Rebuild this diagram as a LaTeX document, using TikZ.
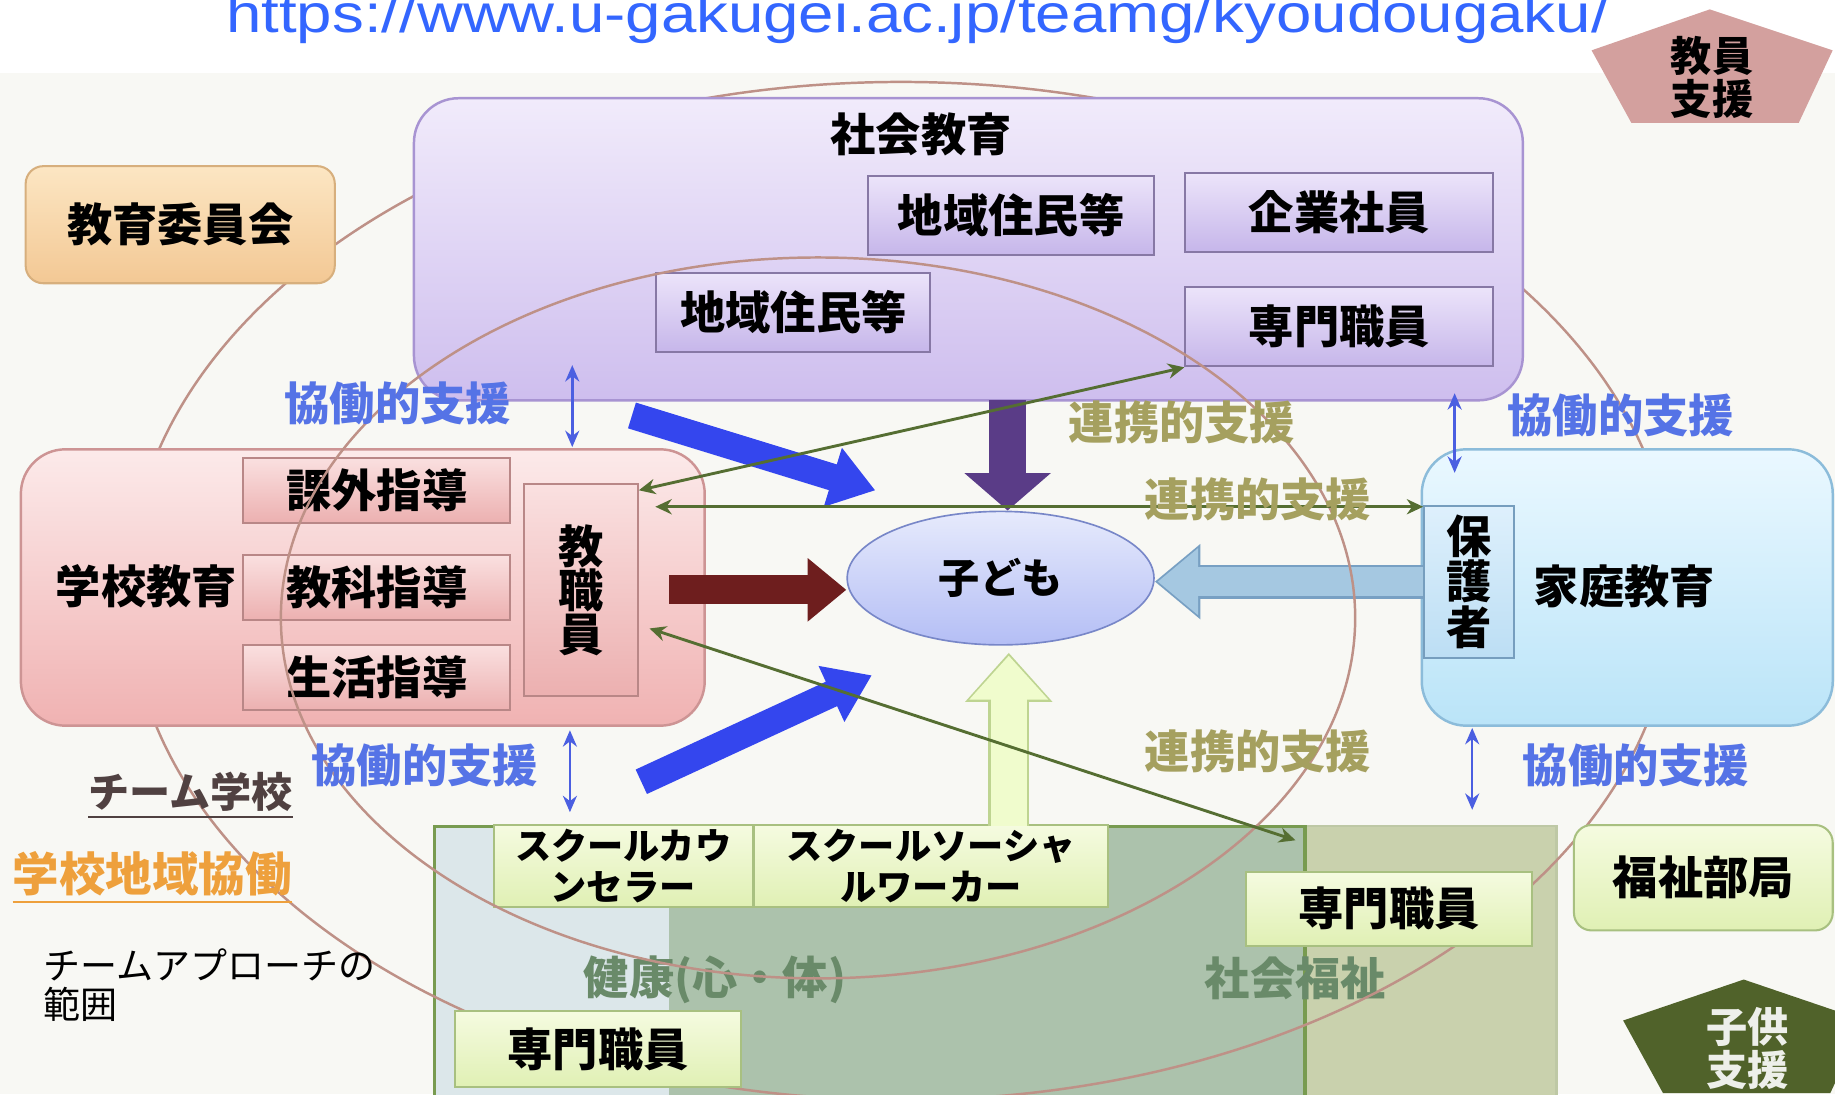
\documentclass[tikz,border=0pt]{standalone}
\usepackage{fontspec}
\setmainfont{Liberation Sans}
\newfontfamily\jp{Noto Sans CJK JP}
\usetikzlibrary{arrows.meta,shapes.geometric}

\definecolor{bgpaper}{RGB}{248,248,244}
\definecolor{urlblue}{RGB}{51,102,255}
\definecolor{rosy}{RGB}{211,160,158}
\definecolor{olivedark}{RGB}{80,98,42}
\definecolor{ringline}{RGB}{190,145,135}
\definecolor{lilacTop}{RGB}{241,235,251}
\definecolor{lilacBot}{RGB}{206,190,238}
\definecolor{lilacLine}{RGB}{168,148,210}
\definecolor{mauveTop}{RGB}{236,228,250}
\definecolor{mauveBot}{RGB}{198,182,234}
\definecolor{mauveLine}{RGB}{135,120,165}
\definecolor{apricotTop}{RGB}{252,230,195}
\definecolor{apricotBot}{RGB}{243,200,148}
\definecolor{apricotLine}{RGB}{215,175,125}
\definecolor{roseTop}{RGB}{252,234,234}
\definecolor{roseBot}{RGB}{240,178,178}
\definecolor{roseLine}{RGB}{205,148,148}
\definecolor{pinkTop}{RGB}{250,224,224}
\definecolor{pinkBot}{RGB}{236,176,176}
\definecolor{pinkLine}{RGB}{185,135,135}
\definecolor{skyTop}{RGB}{234,248,255}
\definecolor{skyBot}{RGB}{186,228,248}
\definecolor{skyLine}{RGB}{140,188,218}
\definecolor{aquaTop}{RGB}{222,240,252}
\definecolor{aquaBot}{RGB}{188,222,244}
\definecolor{aquaLine}{RGB}{118,158,190}
\definecolor{childTop}{RGB}{230,234,252}
\definecolor{childBot}{RGB}{180,190,245}
\definecolor{childLine}{RGB}{120,135,200}
\definecolor{limeTop}{RGB}{245,251,224}
\definecolor{limeBot}{RGB}{224,240,180}
\definecolor{limeLine}{RGB}{168,192,128}
\definecolor{healthFill}{RGB}{220,231,234}
\definecolor{mixFill}{RGB}{172,194,172}
\definecolor{welfFill}{RGB}{201,209,173}
\definecolor{frameA}{RGB}{120,155,80}
\definecolor{frameB}{RGB}{190,200,165}
\definecolor{fatBlue}{RGB}{52,70,238}
\definecolor{fatPurple}{RGB}{90,60,135}
\definecolor{fatRed}{RGB}{110,30,30}
\definecolor{paleBlue}{RGB}{165,200,225}
\definecolor{paleBlueLine}{RGB}{120,160,195}
\definecolor{paleGreen}{RGB}{240,252,205}
\definecolor{paleGreenLine}{RGB}{190,212,145}
\definecolor{linkGreen}{RGB}{85,110,50}
\definecolor{coopBlue}{RGB}{75,95,225}
\definecolor{coopText}{RGB}{85,115,230}
\definecolor{linkText}{RGB}{165,160,95}
\definecolor{teamText}{RGB}{80,65,65}
\definecolor{areaText}{RGB}{238,160,60}
\definecolor{fieldText}{RGB}{105,138,105}

\begin{document}
\begin{tikzpicture}[
    x=0.01cm, y=-0.01cm,
    jt/.style={font=\jp\bfseries\fontsize{11}{13}\selectfont},
    panel/.style={draw=#1Line, top color=#1Top, bottom color=#1Bot, rounded corners=0.38cm, inner sep=0pt, line width=0.6pt},
    block/.style={draw=#1Line, top color=#1Top, bottom color=#1Bot, inner sep=0pt, jt, line width=0.5pt},
    coop/.style={jt, text=coopText},
    link/.style={jt, text=linkText},
    gline/.style={linkGreen, line width=0.7pt, {Stealth[length=1.4mm,width=1.3mm]}-{Stealth[length=1.4mm,width=1.3mm]}},
    bline/.style={coopBlue, line width=0.6pt, {Stealth[length=1.4mm,width=1.2mm]}-{Stealth[length=1.4mm,width=1.2mm]}},
    ring/.style={ringline, line width=0.6pt}
  ]
    \useasboundingbox (0,0) rectangle (1568,935);
    \clip (0,0) rectangle (1568,935);
    \fill[bgpaper] (0,62) rectangle (1568,935);

    \node[anchor=base, text=urlblue, font=\fontsize{13.1}{15}\selectfont] (url) at (784,28)
      {\scalebox{1.18}[1]{https://www.u-gakugei.ac.jp/teamg/kyoudougaku/}};

    % pentagons
    \fill[rosy] (1461,8) -- (1566,43) -- (1537,105) -- (1394,105) -- (1360,43) -- cycle;
    \node[align=center, font=\jp\bfseries\fontsize{10}{10.5}\selectfont] (kyoin) at (1463,66) {教員\\支援};
    \fill[olivedark] (1490,837) -- (1593,872) -- (1564,934) -- (1421,934) -- (1387,872) -- cycle;
    \node[align=center, text=white!90!olivedark, font=\jp\bfseries\fontsize{10}{10.5}\selectfont] (kodomoshien) at (1493,896) {子供\\支援};

    % bottom area
    \fill[healthFill] (371,706) rectangle (572,960);
    \fill[mixFill] (572,706) rectangle (1115,960);
    \fill[welfFill] (1115,706) rectangle (1330,960);
    \draw[frameB, line width=0.6pt] (1115,706) -- (1330,706) -- (1330,960);
    \draw[frameA, line width=0.8pt] (371,960) -- (371,706) -- (1115,706) -- (1115,960);
    \node[jt, text=fieldText] (kenko) at (611,837) {健康(心・体)};
    \node[jt, text=fieldText] (shafuku) at (1107,836) {社会福祉};

    \draw[ring] (770,505) ellipse [x radius=660, y radius=435];

    % social education
    \node[panel=lilac, minimum width=9.47cm, minimum height=2.58cm] (shakai) at (827.5,213) {};
    \node[jt] (shakaiT) at (787,115) {社会教育};
    \node[block=mauve, minimum width=2.44cm, minimum height=0.68cm] (chiiki1) at (864,184) {地域住民等};
    \node[block=mauve, minimum width=2.63cm, minimum height=0.67cm] (kigyo) at (1144.5,181.5) {企業社員};
    \node[block=mauve, minimum width=2.34cm, minimum height=0.68cm] (chiiki2) at (678,267) {地域住民等};
    \node[block=mauve, minimum width=2.63cm, minimum height=0.68cm] (senmon1) at (1144.5,279) {専門職員};

    \node[block=apricot, rounded corners=0.15cm, minimum width=2.64cm, minimum height=1cm] (iinkai) at (154,192) {教育委員会};

    % school education
    \node[panel=rose, minimum width=5.84cm, minimum height=2.36cm] (gakko) at (310,502) {};
    \node[jt] (gakkoT) at (125,501) {学校教育};
    \node[block=pink, minimum width=2.28cm, minimum height=0.56cm] (kagai) at (322,419) {課外指導};
    \node[block=pink, minimum width=2.28cm, minimum height=0.56cm] (kyoka) at (322,502) {教科指導};
    \node[block=pink, minimum width=2.28cm, minimum height=0.56cm] (seikatsu) at (322,579) {生活指導};
    \node[block=pink, minimum width=0.97cm, minimum height=1.81cm, align=center,
      font=\jp\bfseries\fontsize{11}{10.6}\selectfont] (kyoshoku) at (496.5,504.5) {教\\職\\員};

    % home education
    \node[panel=sky, minimum width=3.51cm, minimum height=2.36cm] (katei) at (1390.5,502) {};
    \node[jt] (kateiT) at (1388,501) {家庭教育};
    \node[block=aqua, minimum width=0.77cm, minimum height=1.3cm, align=center,
      font=\jp\bfseries\fontsize{11}{11}\selectfont] (hogosha) at (1255.5,497) {保\\護\\者};

    \node[block=lime, rounded corners=0.15cm, minimum width=2.21cm, minimum height=0.9cm] (fukushi) at (1455.5,750) {福祉部局};

    \node[block=lime, minimum width=2.21cm, minimum height=0.7cm, align=center,
      font=\jp\bfseries\fontsize{8.8}{10}\selectfont] (counselor) at (532.5,740) {スクールカウ\\ンセラー};
    \node[block=lime, minimum width=3.03cm, minimum height=0.7cm, align=center,
      font=\jp\bfseries\fontsize{8.8}{10}\selectfont] (socialw) at (795.5,740) {スクールソーシャ\\ルワーカー};
    \node[block=lime, minimum width=2.44cm, minimum height=0.65cm] (senmon2) at (511,896.5) {専門職員};
    \node[block=lime, minimum width=2.44cm, minimum height=0.63cm] (senmon3) at (1187,776.5) {専門職員};

    \node[ellipse, draw=childLine, top color=childTop, bottom color=childBot, minimum width=2.62cm,
      minimum height=1.14cm, inner sep=0pt, font=\jp\bfseries\fontsize{10}{12}\selectfont] (kodomo) at (855,494) {子ども};

    % side labels
    \node[font=\jp\bfseries\fontsize{10}{12}\selectfont, text=teamText] (teamgakko) at (163,680) {\underline{チーム学校}};
    \node[font=\jp\bfseries\fontsize{11.3}{13}\selectfont, text=areaText] (chiikikyodo) at (130,750) {\underline{学校地域協働}};
    \node[font=\jp\fontsize{9}{9.5}\selectfont, align=left, anchor=west] (hani) at (25,842) {チームアプローチの\\範囲};

    % fat arrows
    \coordinate (bl1) at (540,355);
    \coordinate (bl1e) at (748,419);
    \coordinate (bl2) at (548,668);
    \coordinate (bl2e) at (745,577);
    \draw[fatBlue, line width=0.23cm, -{Triangle[width=0.5cm,length=0.38cm]}] (bl1) -- (bl1e);
    \draw[fatBlue, line width=0.23cm, -{Triangle[width=0.5cm,length=0.38cm]}] (bl2) -- (bl2e);

    \coordinate (pu0) at (861,342);
    \draw[fatPurple, line width=0.32cm, -{Triangle[width=0.72cm,length=0.32cm]}] (pu0) -- (pu0 |- kodomo.north);

    \coordinate (mr0) at (572,504);
    \draw[fatRed, line width=0.25cm, -{Triangle[width=0.52cm,length=0.33cm]}] (mr0) -- (mr0 -| kodomo.west);

    \draw[paleBlueLine, line width=0.29cm, -{Triangle[width=0.62cm,length=0.39cm]}] (hogosha.west) -- (hogosha.west -| kodomo.east);
    \draw[paleBlue, line width=0.25cm, -{Triangle[width=0.55cm,length=0.345cm]}, shorten >=0.025cm] (hogosha.west) -- (hogosha.west -| kodomo.east);

    \coordinate (lg0) at (862,706);
    \draw[paleGreenLine, line width=0.35cm, -{Triangle[width=0.72cm,length=0.42cm]}, shorten >=0.06cm] (lg0) -- (lg0 |- kodomo.south);
    \draw[paleGreen, line width=0.31cm, -{Triangle[width=0.65cm,length=0.375cm]}, shorten >=0.085cm] (lg0) -- (lg0 |- kodomo.south);

    \draw[ring] (699,528) ellipse [x radius=459, y radius=308];

    % thin links
    \draw[gline] (kyoshoku.60) -- (senmon1.south west);
    \coordinate (gl0) at (560,433);
    \draw[gline] (gl0) -- (gl0 -| hogosha.west);
    \coordinate (gl1) at (555,537);
    \coordinate (gl2) at (1107,718);
    \draw[gline] (gl1) -- (gl2);

    \node[link] (renkei1) at (1010,361) {連携的支援};
    \node[link] (renkei2) at (1075,427) {連携的支援};
    \node[link] (renkei3) at (1075,642) {連携的支援};

    \coordinate (ka1) at (489,312);
    \coordinate (ka1e) at (489,382);
    \coordinate (ka2) at (1243,336);
    \coordinate (ka2e) at (1243,404);
    \coordinate (ka3) at (487,624);
    \coordinate (ka3e) at (487,694);
    \coordinate (ka4) at (1258,622);
    \coordinate (ka4e) at (1258,692);
    \draw[bline] (ka1) -- (ka1e);
    \draw[bline] (ka2) -- (ka2e);
    \draw[bline] (ka3) -- (ka3e);
    \draw[bline] (ka4) -- (ka4e);
    \node[coop] (kyodo1) at (340,345) {協働的支援};
    \node[coop] (kyodo2) at (1385,355) {協働的支援};
    \node[coop] (kyodo3) at (363,654) {協働的支援};
    \node[coop] (kyodo4) at (1398,654) {協働的支援};
  \end{tikzpicture}
\end{document}
